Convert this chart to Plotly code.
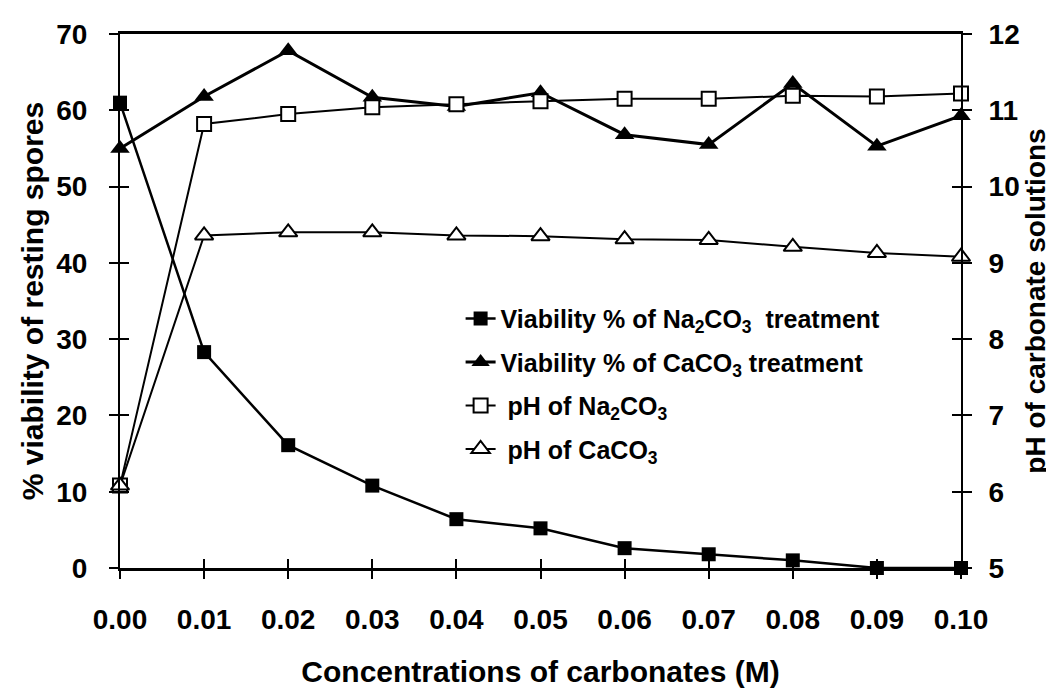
import plotly.graph_objects as go

conc = [0.00, 0.01, 0.02, 0.03, 0.04, 0.05, 0.06, 0.07, 0.08, 0.09, 0.10]
viab_na2co3 = [61.0, 28.3, 16.1, 10.8, 6.4, 5.2, 2.6, 1.8, 1.0, 0.0, 0.0]
viab_caco3 = [55.0, 61.8, 67.8, 61.7, 60.5, 62.3, 56.8, 55.5, 63.5, 55.3, 59.3]
ph_na2co3 = [6.08, 10.82, 10.95, 11.04, 11.08, 11.12, 11.15, 11.15, 11.19, 11.18, 11.22]
ph_caco3 = [6.08, 9.36, 9.40, 9.40, 9.36, 9.35, 9.31, 9.30, 9.21, 9.13, 9.08]

xticks = [0.00, 0.01, 0.02, 0.03, 0.04, 0.05, 0.06, 0.07, 0.08, 0.09, 0.10]
xticklabels = ["0.00", "0.01", "0.02", "0.03", "0.04", "0.05", "0.06", "0.07", "0.08", "0.09", "0.10"]
left_ticks = [0, 10, 20, 30, 40, 50, 60, 70]
right_ticks = [5, 6, 7, 8, 9, 10, 11, 12]

names = [
    "<b>Viability % of Na<sub>2</sub>CO<sub>3</sub>  treatment</b>",
    "<b>Viability % of CaCO<sub>3</sub> treatment</b>",
    "<b> pH of Na<sub>2</sub>CO<sub>3</sub></b>",
    "<b> pH of CaCO<sub>3</sub></b>",
]

FONT = "Liberation Sans, Arial, sans-serif"

fig = go.Figure()
fig.add_trace(go.Scatter(
    x=conc, y=viab_na2co3, name=names[0], mode="lines+markers", legendgroup="a",
    line=dict(color="black", width=2.5),
    marker=dict(symbol="square", size=14, color="black"),
    cliponaxis=False, yaxis="y"))
fig.add_trace(go.Scatter(
    x=conc, y=viab_caco3, name=names[1], mode="lines+markers", legendgroup="b",
    line=dict(color="black", width=3),
    marker=dict(symbol="triangle-up", size=17, color="black"),
    cliponaxis=False, yaxis="y"))
fig.add_trace(go.Scatter(
    x=conc, y=ph_na2co3, name=names[2], mode="lines+markers", legendgroup="c",
    line=dict(color="black", width=2),
    marker=dict(symbol="square", size=14, color="white", line=dict(color="black", width=2)),
    cliponaxis=False, yaxis="y2"))
fig.add_trace(go.Scatter(
    x=conc, y=ph_caco3, name=names[3], mode="lines+markers", legendgroup="d",
    line=dict(color="black", width=2),
    marker=dict(symbol="triangle-up", size=16, color="white", line=dict(color="black", width=2)),
    cliponaxis=False, yaxis="y2"))

tickfont = dict(family=FONT, size=28, color="black")
titlefont = dict(family=FONT, size=30, color="black")

fig.update_layout(
    width=1054, height=688,
    margin=dict(l=112, r=101, t=26, b=128),
    paper_bgcolor="white", plot_bgcolor="white",
    font=dict(family=FONT, color="black"),
    showlegend=True,
    legend=dict(
        x=0.405, y=0.51, xanchor="left", yanchor="top",
        font=dict(family=FONT, size=25, color="black"),
        bgcolor="rgba(0,0,0,0)", traceorder="grouped", tracegroupgap=8,
        itemwidth=30,
    ),
    xaxis=dict(
        range=[0, 0.10], tickvals=xticks, ticktext=[f"<b>{t}</b>" for t in xticklabels],
        showline=True, linecolor="black", linewidth=2.5, mirror=True,
        ticks="outside", ticklen=8, tickwidth=2, tickcolor="black",
        showgrid=False, zeroline=False, tickfont=tickfont, ticklabelstandoff=17,
        title=dict(text="<b>Concentrations of carbonates (M)</b>", font=titlefont, standoff=27),
    ),
    xaxis2=dict(
        overlaying="x", matches="x", range=[0, 0.10], tickvals=xticks, showticklabels=False,
        ticks="inside", ticklen=9, tickwidth=2, tickcolor="black",
        showline=False, showgrid=False, zeroline=False,
    ),
    yaxis=dict(
        range=[0, 70], tickvals=left_ticks,
        ticktext=[f"<b>{v}</b>" for v in left_ticks],
        showline=True, linecolor="black", linewidth=2, ticks="outside", ticklen=9,
        tickwidth=2, tickcolor="black", showgrid=False, zeroline=False, tickfont=tickfont,
        ticklabelstandoff=16,
        title=dict(text="<b>% viability of resting spores</b>", font=titlefont, standoff=4),
    ),
    yaxis2=dict(
        range=[5, 12], tickvals=right_ticks,
        ticktext=[f"<b>{v}</b>" for v in right_ticks],
        overlaying="y", side="right", anchor="x",
        showline=True, linecolor="black", linewidth=2, ticks="outside", ticklen=9,
        tickwidth=2, tickcolor="black", showgrid=False, zeroline=False, tickfont=tickfont,
        ticklabelstandoff=11,
        title=dict(text="<b>pH of carbonate solutions</b>",
                   font=dict(family=FONT, size=28, color="black"), standoff=0),
    ),
    yaxis3=dict(
        overlaying="y", matches="y", range=[0, 70], tickvals=left_ticks,
        showticklabels=False, ticks="inside", ticklen=9, tickwidth=2, tickcolor="black",
        showline=False, showgrid=False, zeroline=False,
    ),
    yaxis4=dict(
        overlaying="y", side="right", range=[5, 12], tickvals=right_ticks,
        showticklabels=False, ticks="inside", ticklen=9, tickwidth=2, tickcolor="black",
        showline=False, showgrid=False, zeroline=False,
    ),
)

# invisible traces to activate the inner-tick axes
fig.add_trace(go.Scatter(x=[conc[0]], y=[viab_na2co3[0]], xaxis="x2", yaxis="y3",
                         mode="markers", marker=dict(opacity=0), showlegend=False, hoverinfo="skip"))
fig.add_trace(go.Scatter(x=[conc[0]], y=[ph_na2co3[0]], xaxis="x2", yaxis="y4",
                         mode="markers", marker=dict(opacity=0), showlegend=False, hoverinfo="skip"))

fig.write_html("out.html")
